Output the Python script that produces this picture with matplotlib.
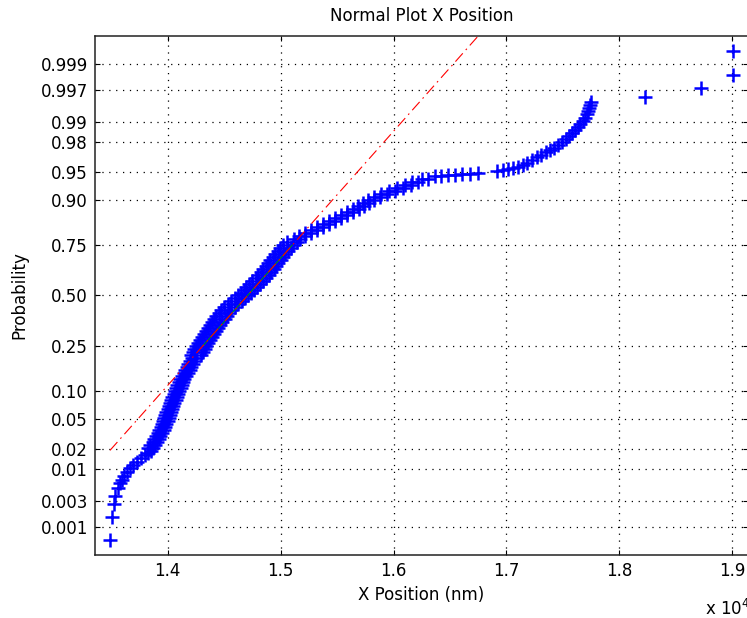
import numpy as np
import matplotlib.pyplot as plt
from statistics import NormalDist

# normal probability scale (like MATLAB normplot)
nd = NormalDist()
_ppf = np.vectorize(nd.inv_cdf, otypes=[float])
_cdf = np.vectorize(nd.cdf, otypes=[float])


def prob_to_z(p):
    p = np.clip(np.asarray(p, dtype=float), 1e-12, 1 - 1e-12)
    return _ppf(p)


def z_to_prob(z):
    return _cdf(np.asarray(z, dtype=float))


# Data: X position (nm) and plotting probability
low_x = [13489, 13507, 13524, 13533, 13560, 13578, 13595, 13613, 13640, 13666,
         13693, 13728, 13764, 13799, 13826, 13852]
low_p = [0.00055, 0.00156, 0.0027, 0.0037, 0.0050, 0.0060, 0.0069, 0.0078, 0.0090, 0.0104,
         0.0119, 0.0132, 0.0147, 0.0163, 0.0174, 0.0185]

# dense part: two points per probability level (left / right side of the band)
body_p = [0.0207, 0.0228, 0.0250, 0.0274, 0.0301, 0.0329, 0.0359, 0.0392, 0.0427, 0.0465,
          0.0505, 0.0548, 0.0594, 0.0643, 0.0694, 0.0749, 0.0808, 0.0869, 0.0934, 0.1003,
          0.1075, 0.1151, 0.1230, 0.1314, 0.1401, 0.1492, 0.1587, 0.1685, 0.1788, 0.1894,
          0.2005, 0.2119, 0.2236, 0.2358, 0.2483, 0.2611, 0.2743, 0.2877, 0.3015, 0.3156,
          0.3300, 0.3446, 0.3594, 0.3745, 0.3897, 0.4052, 0.4207, 0.4364, 0.4522, 0.4681,
          0.4840, 0.5000, 0.5160, 0.5319, 0.5478, 0.5636, 0.5793, 0.5948, 0.6103, 0.6255,
          0.6406, 0.6554, 0.6700, 0.6844, 0.6985, 0.7123, 0.7257, 0.7389, 0.7517, 0.7642,
          0.7764, 0.7881, 0.7995, 0.8106, 0.8212, 0.8315, 0.8413, 0.8508, 0.8599, 0.8686,
          0.8770, 0.8849, 0.8925, 0.8997, 0.9066, 0.9131, 0.9192, 0.9251, 0.9306, 0.9357,
          0.9406, 0.9452]
body_x = [13868, 13845, 13908, 13881, 13934, 13912, 13965, 13938, 13987, 13961,
          14009, 13978, 14027, 14000, 14049, 14018, 14071, 14040, 14094, 14062,
          14116, 14085, 14138, 14107, 14164, 14142, 14195, 14169, 14222, 14195,
          14253, 14206, 14313, 14237, 14340, 14268, 14375, 14303, 14411, 14339,
          14446, 14374, 14482, 14414, 14522, 14454, 14565, 14503, 14625, 14565,
          14683, 14620, 14737, 14675, 14787, 14724, 14840, 14781, 14894, 14826,
          14938, 14870, 14978, 14910, 15022, 14950, 15066, 14998, 15111, 15056,
          15175, 15160, 15273, 15266, 15379, 15372, 15485, 15478, 15592, 15585,
          15698, 15682, 15786, 15771, 15884, 15886, 16017, 16028, 16158, 16160,
          16309, 16364]
body_x2 = [13828, 13885, 13868, 13921, 13894, 13952, 13925, 13978, 13947, 14001,
           13969, 14018, 13987, 14040, 14009, 14058, 14031, 14080, 14054, 14102,
           14076, 14125, 14098, 14147, 14124, 14182, 14155, 14209, 14182, 14235,
           14213, 14296, 14223, 14327, 14250, 14358, 14285, 14393, 14321, 14429,
           14356, 14464, 14392, 14504, 14432, 14544, 14475, 14593, 14535, 14655,
           14593, 14710, 14647, 14765, 14697, 14814, 14750, 14871, 14804, 14916,
           14848, 14960, 14888, 15000, 14932, 15040, 14976, 15088, 15021, 15146,
           15115, 15220, 15213, 15326, 15319, 15432, 15425, 15538, 15532, 15645,
           15638, 15742, 15726, 15831, 15824, 15946, 15957, 16088, 16098, 16220,
           16249, 16424]

up_x = [16483, 16545, 16607, 16677, 16748, 16917, 16970, 17014, 17058, 17103,
        17147, 17182, 17227, 17271, 17306, 17351, 17386, 17421, 17457, 17492,
        17528, 17554, 17581, 17607, 17634, 17652, 17678, 17696, 17714, 17723,
        17731, 17740, 17749]
up_p = [0.9462, 0.9470, 0.9475, 0.9483, 0.9498, 0.9518, 0.9530, 0.9543, 0.9557, 0.9568,
        0.9593, 0.9616, 0.9648, 0.9678, 0.9697, 0.9724, 0.9740, 0.9756, 0.9778, 0.9798,
        0.9817, 0.9834, 0.9850, 0.9865, 0.9879, 0.9891, 0.9901, 0.9911, 0.9924, 0.9932,
        0.9939, 0.99455, 0.9951]

out_x = [18227, 18724, 19007, 19007]
out_p = [0.9960, 0.99719, 0.99840, 0.99946]

# reference line (fit) and its quartile segment
ref_x = [13489, 16750]
ref_p = [0.0192, 0.99974]
quart_x = [14311, 15103]
quart_p = [0.25, 0.75]

prob_ticks = [0.001, 0.003, 0.01, 0.02, 0.05, 0.10, 0.25, 0.50, 0.75, 0.90,
              0.95, 0.98, 0.99, 0.997, 0.999]
prob_labels = ['0.001', '0.003', '0.01', '0.02', '0.05', '0.10', '0.25', '0.50', '0.75',
               '0.90', '0.95', '0.98', '0.99', '0.997', '0.999']
x_ticks = [14000, 15000, 16000, 17000, 18000, 19000]
x_labels = ['1.4', '1.5', '1.6', '1.7', '1.8', '1.9']

plt.rcParams['font.family'] = ['DejaVu Sans']

fig = plt.figure(figsize=(7.47, 6.18), dpi=100)
ax = fig.add_axes([95 / 747, 63 / 618, 653 / 747, 519 / 618])
ax.set_yscale('function', functions=(prob_to_z, z_to_prob))

xs = low_x + body_x + body_x2 + up_x + out_x
ps = low_p + body_p + body_p + up_p + out_p
ax.plot(xs, ps, linestyle='none', marker='+', markersize=10, markeredgewidth=1.8,
        color='#0000ff', zorder=3)
ax.plot(quart_x, quart_p, '-', color='#00a000', linewidth=0.7, zorder=4)
ax.plot(ref_x, ref_p, color='red', linewidth=0.8, dashes=(10, 4, 1.5, 4), zorder=5)

ax.set_xlim(13356, 19140)
ax.set_ylim(0.00026, 0.99974)
ax.set_yticks(prob_ticks)
ax.set_yticklabels(prob_labels)
ax.yaxis.set_minor_locator(plt.NullLocator())
ax.set_xticks(x_ticks)
ax.set_xticklabels(x_labels)

ax.tick_params(direction='in', length=3.6, width=0.8, top=True, right=True,
               labelsize=12, pad=5, colors='k')
ax.grid(True, color='k', linestyle=(0, (1, 4.5)), linewidth=0.9)
ax.set_axisbelow(True)
for s in ax.spines.values():
    s.set_linewidth(1.1)
    s.set_color('#222222')

ax.set_title('Normal Plot X Position', fontsize=12, pad=10.5)
ax.set_xlabel('X Position (nm)', fontsize=12)
ax.xaxis.set_label_coords(0.5, -0.0588)
ax.set_ylabel('Probability', fontsize=12)
ax.yaxis.set_label_coords(-0.1026, 0.5)
fig.text(705 / 747, 1 - 609 / 618, 'x 10$^4$', fontsize=12, ha='left', va='center')

fig.savefig('out.png', dpi=100)
